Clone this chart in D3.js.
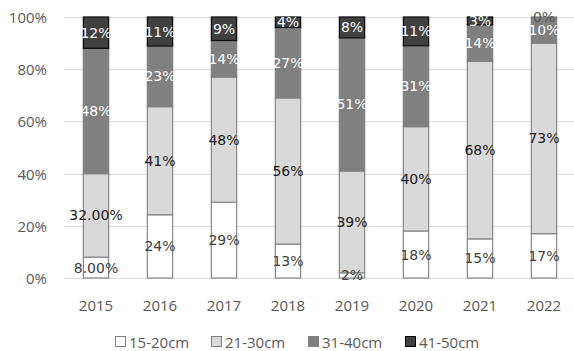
<!DOCTYPE html>
<html><head><meta charset="utf-8">
<script src="https://cdn.jsdelivr.net/npm/d3@7"></script>
<style>html,body{margin:0;padding:0;background:#fff;}svg{display:block;}</style>
</head><body>
<svg id="c" width="574" height="351"></svg>
<script>
const years = ["2015","2016","2017","2018","2019","2020","2021","2022"];
const seriesNames = ["15-20cm","21-30cm","31-40cm","41-50cm"];
const s15_20 = [8, 24, 29, 13, 2, 18, 15, 17];
const s21_30 = [32, 41, 48, 56, 39, 40, 68, 73];
const s31_40 = [48, 23, 14, 27, 51, 31, 14, 10];
const s41_50 = [12, 11, 9, 4, 8, 11, 3, 0];
const lab15_20 = ["8.00%","24%","29%","13%","2%","18%","15%","17%"];
const lab21_30 = ["32.00%","41%","48%","56%","39%","40%","68%","73%"];
const lab31_40 = ["48%","23%","14%","27%","51%","31%","14%","10%"];
const lab41_50 = ["12%","11%","9%","4%","8%","11%","3%","0%"];
const yTicks = [0, 0.2, 0.4, 0.6, 0.8, 1];

const seriesVals = [s15_20, s21_30, s31_40, s41_50];
const seriesLabels = [lab15_20, lab21_30, lab31_40, lab41_50];
const fills = ["#ffffff","#d9d9d9","#808080","#404040"];
const strokes = ["#8c8c8c","#8c8c8c","#808080","#111111"];
const labelColors = ["#404040","#1a1a1a","#ffffff","#ffffff"];

const table = years.map((y,i)=>{const o={year:y}; seriesNames.forEach((s,k)=>o[s]=seriesVals[k][i]); return o;});
const stack = d3.stack().keys(seriesNames).offset(d3.stackOffsetExpand)(table);

const svg = d3.select("#c");
const x = d3.scaleBand().domain(years).range([64,576]).paddingInner(0.59).paddingOuter(0.295);
const y = d3.scaleLinear().domain([0,1]).range([278,17]);

// gridlines
svg.append("g").selectAll("line").data(yTicks).join("line")
  .attr("x1",64).attr("x2",574).attr("y1",d=>Math.round(y(d))+0.5).attr("y2",d=>Math.round(y(d))+0.5)
  .attr("stroke","#d9d9d9").attr("stroke-width",1);

// y labels
svg.append("g").selectAll("text").data(yTicks).join("text")
  .attr("x",47).attr("y",d=>y(d)).attr("text-anchor","end").attr("dominant-baseline","central")
  .attr("font-family","Open Sans").attr("font-size",15).attr("fill","#595959")
  .text(d=>d3.format(".0%")(d));

// bars
stack.forEach((layer,k)=>{
  svg.append("g").selectAll("rect").data(layer).join("rect")
    .attr("x",d=>x(d.data.year)+0.5).attr("width",x.bandwidth()-1)
    .attr("y",d=>y(d[1])).attr("height",d=>Math.max(0,y(d[0])-y(d[1])))
    .attr("fill",fills[k]).attr("stroke",strokes[k]).attr("stroke-width",1.3);
});

// labels
stack.forEach((layer,k)=>{
  svg.append("g").selectAll("text").data(layer).join("text")
    .attr("x",d=>x(d.data.year)+x.bandwidth()/2)
    .attr("y",d=>(y(d[0])+y(d[1]))/2)
    .attr("text-anchor","middle").attr("dominant-baseline","central")
    .attr("font-family","DejaVu Sans").attr("font-size",14)
    .attr("fill",(d,i)=> (k===3 && seriesVals[k][i]===0) ? "#595959" : labelColors[k])
    .text((d,i)=>seriesLabels[k][i]);
});

// x labels
svg.append("g").selectAll("text").data(years).join("text")
  .attr("x",d=>x(d)+x.bandwidth()/2).attr("y",305).attr("text-anchor","middle").attr("dominant-baseline","central")
  .attr("font-family","Open Sans").attr("font-size",15).attr("fill","#595959").text(d=>d);

// legend
const legX = [115,211,308,405];
const lg = svg.append("g");
seriesNames.forEach((s,k)=>{
  lg.append("rect").attr("x",legX[k]+0.5).attr("y",336.5).attr("width",10).attr("height",10)
    .attr("fill",fills[k]).attr("stroke",k===3?"#000":"#808080");
  lg.append("text").attr("x",legX[k]+14).attr("y",341.5).attr("dominant-baseline","central")
    .attr("font-family","Open Sans").attr("font-size",15).attr("fill","#595959").text(s);
});
</script>
</body></html>
